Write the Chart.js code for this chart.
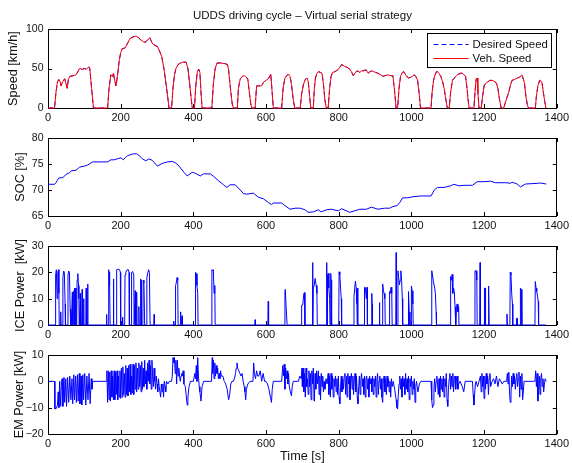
<!DOCTYPE html>
<html>
<head>
<meta charset="utf-8">
<script src="https://cdn.jsdelivr.net/npm/chart.js@4.4.1/dist/chart.umd.min.js"></script>
<style>
  html, body { margin: 0; padding: 0; background: #fff; }
  #wrap { position: relative; width: 572px; height: 463px; overflow: hidden; }
  #wrap canvas { position: absolute; left: 0; }
</style>
</head>
<body>
<div id="wrap">
  <canvas id="speedChart"></canvas>
  <canvas id="socChart"></canvas>
  <canvas id="iceChart"></canvas>
  <canvas id="emChart"></canvas>
</div>
<script>
// time ticks shared by all four panels
const timeTicks = [0, 200, 400, 600, 800, 1000, 1200, 1400];

// vehicle speed over the cycle [t (s), km/h]
const speedData = [
  [0,0],[18,0],[22,20],[26,33],[30,36],[33,34],[36,28],[40,33],[46,37],[50,30],[53,25],[56,36],[60,40],
  [70,41],[77,42],[82,46],[87,50],[95,49],[100,50],[106,49],[112,52],[115,50],[120,25],[125,0],
  [164,0],[168,25],[173,42],[177,40],[180,44],[184,34],[187,28],[191,40],[196,60],[200,70],[204,75],
  [212,76],[219,82],[226,88],[234,90],[242,91],[247,90],[251,88],[256,86],[262,84],[267,83],[274,86],
  [280,89],[284,85],[288,81],[295,79],[301,78],[307,72],[313,65],[319,50],[325,30],[331,8],[333,0],
  [340,0],[344,25],[348,42],[352,50],[358,55],[365,57],[372,58],[380,58],[385,50],[390,30],[394,12],[397,0],
  [403,0],[407,30],[411,46],[415,49],[418,45],[421,20],[424,0],
  [451,0],[455,30],[460,50],[465,57],[475,57],[488,56],[494,55],[497,48],[502,25],[507,5],[510,0],
  [521,0],[524,25],[529,37],[535,40],[540,41],[546,39],[550,36],[554,20],[558,5],[561,0],
  [570,0],[574,28],[580,28],[588,28],[592,32],[597,34],[603,36],[608,38],[613,43],[616,25],[620,0],
  [643,0],[647,25],[652,38],[657,41],[661,43],[666,40],[670,30],[675,10],[679,0],
  [694,0],[698,18],[703,30],[708,36],[712,38],[716,34],[720,15],[723,0],
  [730,0],[733,25],[736,38],[740,44],[744,46],[750,45],[754,44],[758,30],[762,10],[766,0],
  [771,0],[775,25],[779,40],[783,45],[790,46],[796,48],[801,50],[808,55],[812,54],[815,53],[820,52],
  [826,51],[830,49],[835,46],[840,41],[843,43],[850,47],[855,46],[858,45],[863,47],[867,47],[872,48],
  [876,48],[881,44],[886,46],[890,47],[896,46],[902,45],[908,44],[915,42],[922,40],[928,41],[935,42],
  [942,41],[949,41],[953,25],[958,0],
  [962,0],[966,25],[970,40],[975,45],[979,46],[983,43],[987,40],[992,38],[998,39],[1003,40],[1008,42],
  [1012,40],[1017,35],[1021,20],[1025,0],
  [1054,0],[1057,20],[1061,35],[1065,42],[1069,46],[1072,46],[1077,43],[1081,40],[1086,33],[1090,25],
  [1095,10],[1099,0],
  [1104,0],[1108,20],[1113,35],[1118,38],[1124,41],[1130,43],[1136,44],[1140,44],[1145,42],[1149,40],
  [1153,25],[1156,10],[1159,0],
  [1172,0],[1175,20],[1178,36],[1181,38],[1183,20],[1186,0],
  [1192,0],[1196,15],[1200,28],[1204,31],[1210,33],[1216,35],[1222,35],[1227,34],[1231,33],[1235,30],
  [1238,25],[1242,12],[1247,0],
  [1254,0],[1258,6],[1262,12],[1265,16],[1268,20],[1272,28],[1277,35],[1283,36],[1288,37],[1292,38],
  [1297,39],[1301,40],[1304,42],[1307,38],[1311,32],[1315,15],[1319,4],[1322,0],
  [1341,0],[1344,15],[1348,28],[1353,35],[1356,34],[1359,33],[1363,20],[1367,8],[1370,0]
];

// battery state of charge [t (s), %]
const socData = [
  [0,71.1],[18,71.1],[22,71.4],[25,71.8],[30,72.3],[41,72.4],[50,73.0],[59,73.3],[64,73.7],[77,73.8],
  [87,74.4],[100,74.6],[109,74.8],[123,75.4],[164,75.4],[173,75.8],[182,75.8],[191,76.0],[201,76.2],
  [207,75.8],[214,76.3],[219,76.6],[232,76.9],[243,77.0],[251,76.6],[260,76.0],[269,75.6],[278,76.0],
  [287,75.7],[301,74.6],[314,75.1],[328,75.4],[342,75.5],[351,75.2],[358,74.8],[365,74.2],[374,73.4],
  [383,72.7],[397,73.4],[406,73.2],[419,72.7],[428,73.1],[447,73.1],[456,72.6],[469,71.8],[483,71.0],
  [492,70.5],[501,71.0],[515,71.0],[529,70.0],[538,69.3],[547,69.2],[565,69.4],[579,68.6],[593,68.3],
  [606,67.6],[615,67.2],[620,67.5],[643,67.5],[652,67.0],[666,66.3],[680,66.5],[694,66.5],[707,66.2],
  [716,65.7],[730,65.8],[744,66.2],[751,65.8],[767,66.2],[780,66.3],[799,66.0],[808,66.4],[821,66.0],
  [830,65.7],[844,66.0],[858,66.3],[876,66.3],[890,66.7],[908,66.3],[926,66.5],[940,66.5],[949,66.8],
  [961,67.0],[968,67.6],[976,68.5],[990,68.5],[1004,68.7],[1026,68.85],[1054,68.85],[1063,70.0],
  [1072,70.5],[1090,70.5],[1108,70.8],[1117,71.1],[1131,70.8],[1145,70.9],[1168,70.9],[1181,71.6],
  [1200,71.6],[1218,71.7],[1231,71.4],[1259,71.4],[1273,71.3],[1277,71.5],[1291,71.15],[1300,70.6],
  [1314,71.15],[1350,71.3],[1355,71.35],[1371,71.15]
];

// engine power [t (s), kW]
const iceData = [
  [0,0],[20,0],[21,19],[23,21],[25,10],[27,20],[29,21],[30,12],[31,0],[34,0],[35,5],[36,0],
  [40,0],[41,18],[43,20.5],[45,20],[47,8],[48,0],[54,0],[55,19],[57,20.5],[59,20],[61,6],[62,0],[63,6],[64,0],
  [66,0],[67,12.5],[68,0],[70,0],[71,13],[72,0],[73,14],[74,0],[76,14],[77,0],[79,0],[80,17],[82,19.5],
  [84,15],[85,10],[86,0],[88,0],[89,12],[90,0],[93,0],[94,13.5],[95,0],[97,0],[98,10],[99,0],
  [104,0],[105,14],[106,0],[108,0],[109,15.5],[110,0],[160,0],[161,4],[162,0],
  [166,0],[167,21],[168,20],[169,18],[170,15],[171,0],[179,0],[180,17.5],[181,0],
  [188,0],[189,21],[193,21.2],[197,21],[199,20],[200,0],[204,0],[205,3],[206,0],
  [211,0],[212,19],[214,20],[218,21],[221,21],[223,20],[224,0],[229,0],[230,20],[233,20.3],[236,19],[237,0],
  [239,0],[240,13],[241,0],[243,0],[244,12.5],[245,0],[249,0],[250,7],[251,0],[254,0],[255,17.5],[256,17],[257,0],
  [261,0],[262,17],[264,16],[266,0],[271,0],[272,18],[275,20],[277,21],[279,20],[281,0],
  [291,0],[292,4],[293,0],[345,0],[346,1.5],[347,0],[350,0],[351,15],[353,16],[355,18],[357,17],[358,0],
  [364,0],[365,5],[366,0],[368,0],[369,3.5],[370,0],[405,0],[406,20],[408,19.5],[410,15],[412,12],[413,0],
  [450,0],[451,21],[453,20.5],[455,21],[457,12],[459,15],[460,0],[569,0],[570,2],[571,0],[605,0],[606,9],[607,0],
  [651,0],[652,12.5],[653,13.5],[655,7.5],[657,7.5],[658,0],[697,0],[698,7.5],[701,7.6],[704,12],[706,12.3],[707,0],
  [727,0],[728,23.7],[729,0],[730,14.5],[732,14.5],[735,17.7],[738,15],[740,12],[741,0],
  [766,0],[767,23.7],[768,0],[769,18.6],[771,19.6],[773,14],[775,10],[776,0],[778,19.6],[779,17],[780,10],[781,0],
  [800,0],[801,20.2],[803,19],[805,14],[807,10],[808,0],[841,0],[842,10.8],[844,14],[846,16.7],[848,14],
  [850,8],[851,0],[852,14],[853,0],[870,0],[871,14.3],[873,14.3],[876,10],[878,14.3],[879,0],
  [890,0],[891,12],[892,8],[893,0],[911,0],[912,8.5],[913,0],[920,0],[921,15.6],[923,13],[925,12],[927,10],[928,0],
  [939,0],[940,12.7],[942,12],[944,14.3],[946,12],[947,0],[957,0],[958,27.5],[959,0],
  [962,0],[963,20.6],[965,18],[967,15.2],[969,17],[971,20.6],[973,17],[975,10],[976,0],
  [991,0],[992,12.7],[994,5],[996,0],[999,0],[1000,14.8],[1002,13],[1004,8],[1005,0],
  [1055,0],[1056,20.6],[1058,19],[1060,17],[1062,17],[1064,14],[1066,12],[1068,5],[1069,0],
  [1107,0],[1108,18.4],[1110,17],[1112,19.2],[1114,12],[1116,14],[1118,12.7],[1120,7],[1122,0],
  [1124,7],[1126,8],[1128,5],[1130,7],[1131,0],[1174,0],[1175,20.6],[1178,20.6],[1180,17],[1181,0],
  [1188,0],[1189,23.7],[1190,0],[1200,0],[1201,14],[1203,14],[1204,0],[1211,0],[1212,14.8],[1213,14],[1214,0],
  [1262,0],[1263,4.2],[1264,0],[1271,0],[1272,20],[1274,19],[1276,12],[1278,8],[1279,0],
  [1288,0],[1289,2.5],[1291,2.5],[1292,0],[1299,0],[1300,14],[1302,13.5],[1304,0],
  [1340,0],[1341,16.5],[1343,14],[1345,12.7],[1347,11],[1349,9],[1350,0],[1370,0]
];

// electric machine power [t (s), kW]
const emData = [
  [0,0],[18,0],[19,-10.5],[23,-10.3],[26,-9],[28,-4],[30,-10],[32,0],[35,-9.5],[37,0],[39,1],
  [41,-9.5],[44,1.5],[46,-8],[49,1],[51,-9.5],[54,1.5],[57,-8],[60,2],[63,-7],[66,1],[68,-8.5],
  [71,2.5],[73,-7],[76,2],[78,-8],[81,2.5],[83,-7.5],[86,3],[88,-8.5],[91,2],[93,-9],[96,2.5],
  [98,-7],[101,3],[104,-9],[107,2],[110,-7],[113,3],[116,-8.5],[119,1],[121,-3],[123,0],
  [161,0],[162,4],[164,-8],[166,4],[168,-7],[170,3.5],[172,-7.5],[174,4],[176,-6],
  [178,2],[180,-7],[182,4],[184,-7],[186,3.5],[188,-5],[190,4],[192,-7],[194,2],[196,-6],[198,4],
  [200,-6.5],[202,5],[204,-6],[206,5.5],[208,-5],[210,3],[212,-6],[214,6],[216,-5],[218,5],[220,-5.5],
  [222,6],[224,-4],[226,6.5],[228,-5],[230,2],[232,-4.5],[234,6.5],[236,-5],[238,6],[240,-3],[242,7],
  [244,-4],[246,5],[248,-3],[250,7],[252,-2],[254,6],[256,-4],[258,7.5],[260,-3],[262,5],[264,-2],
  [266,8],[268,-1],[270,4],[272,-3],[274,7],[276,0],[278,8],[280,-1],[282,6],[284,-3],[286,8],[288,2],
  [290,-2],[292,5],[294,0],[296,-3],[298,2],[300,-1],[302,-4],[304,1],[306,-2],[310,-6],[312,-1],
  [314,-4],[316,-1],[318,-6],[320,0],[322,-2],[324,-4],[326,0],[330,-1],[334,0],[340,0],[342,2],
  [344,9],[346,7],[348,9],[350,3],[352,8],[354,-1],[356,8],[358,2],[360,5],[362,2],[364,0],[366,2],
  [368,3],[370,2],[372,4],[374,-1],[378,-2],[380,-5],[383,-9],[385,-6],[388,-2],[392,0],[400,0],
  [404,3],[406,1],[408,6],[410,0],[412,9],[414,2],[416,-2],[418,-4],[421,-7.5],[424,-2],[428,0],
  [450,0],[452,9],[453,3],[455,8],[457,1],[459,7],[461,2],[463,6],[465,3],[467,5],[469,1],[471,3],
  [473,1],[475,4],[477,2],[481,2],[485,0],[489,-1],[493,-3],[497,-7],[500,-5],[503,-1],[506,0],
  [510,0],[513,1],[516,3],[518,5],[520,7],[522,5],[525,4],[528,3],[531,2],[534,3],[537,0],[540,-2],
  [542,-4],[544,-7],[546,-3],[550,-1],[556,0],[564,0],[566,7],[568,3],[571,1],[574,4],[577,2],
  [580,2],[584,4],[588,0],[592,3],[596,0],[600,0],[604,-1],[608,-3],[612,-6],[615,-8],[617,-3],
  [620,0],[643,0],[646,6],[648,2],[650,6.5],[652,-3],[654,5],[656,1],[658,4],[660,-1],[662,3],
  [664,-2],[667,-4],[670,-5.5],[672,-2],[675,0],[689,0],[693,2],[697,1],[699,5],[700,-2],[702,5],
  [704,-4],[706,3],[708,-6],[710,5],[712,-2],[714,1],[716,-5],[718,4],[720,-2],[722,3],[724,-7],
  [726,4],[728,-1],[730,5],[732,-6],[733,-7.5],[735,3],[737,-3],[739,4],[741,-1],[744,4],[746,-5],
  [748,2],[750,-7],[752,3],[754,-2],[756,2],[758,-4],[760,0],[762,-3],[765,1],[768,-1],[771,3],
  [773,-5],[775,2],[777,-6],[779,3],[781,-3],[783,2],[785,-6],[787,1],[789,-2],[791,2],[793,-4],
  [795,1],[797,-5],[799,2],[801,-6],[803,-8.5],[805,-2],[807,2],[809,-4],[811,1],[813,-3],[815,2],
  [817,3],[819,-5],[821,2],[823,-6],[825,3],[827,-1],[829,2],[831,-7],[833,1],[835,3],[837,-3],
  [839,2],[841,-5],[843,1],[845,3],[847,-4],[849,2],[851,-6],[853,-8.5],[855,-2],[857,2],[859,-5],
  [861,1],[863,3],[865,-2],[867,1],[869,-5],[871,2],[873,-6],[875,1],[877,2],[879,-3],[881,1],
  [883,-6],[885,2],[887,-1],[889,1],[891,-4],[893,2],[895,-5],[897,1],[899,-2],[901,2],[903,-6],
  [905,1],[907,3],[909,-5],[911,0],[913,2],[915,-3],[917,1],[919,-6],[921,-8],[923,1],[925,2],
  [927,-4],[929,1],[931,-5],[933,2],[935,-2],[937,1],[939,-4],[941,0],[943,-6],[945,1],[947,-2],
  [950,0],[954,-3],[958,-7],[960,-10],[962,-10.5],[964,-5],[966,-1],[968,2],[970,-3],[972,1],
  [974,-6],[976,2],[978,-2],[980,1],[982,-5],[984,3],[986,-3],[988,1],[990,-4],[992,2],[994,-7],
  [996,1],[998,-2],[1000,2],[1002,-5],[1004,0],[1006,-3],[1008,1],[1010,-8],[1012,-2],[1014,0],
  [1018,-4],[1022,-1],[1026,0],[1054,0],[1056,-7],[1058,-10],[1060,-9],[1062,-3],[1064,1],[1066,-4],
  [1068,0],[1070,2],[1072,-1],[1074,-5],[1076,1],[1078,-6],[1080,2],[1082,-3],[1084,1],[1086,-4],
  [1088,2],[1090,-6],[1092,1],[1094,-2],[1096,3],[1098,-7],[1100,-9.5],[1102,-3],[1104,1],[1106,3],
  [1108,-3],[1110,2],[1112,-2],[1114,3],[1116,-4],[1118,1],[1120,2],[1122,-3],[1124,1],[1126,2],
  [1128,-3],[1130,-1],[1134,0],[1140,-2],[1144,-4],[1148,0],[1168,0],[1170,-5],[1172,-9],[1174,-5],
  [1176,-1],[1178,0],[1182,-2],[1186,0],[1190,2],[1192,-4],[1194,3],[1196,-2],[1198,2],[1200,-6.5],
  [1202,2],[1204,-3],[1206,3],[1208,-1],[1210,2],[1212,-5],[1214,1],[1216,3],[1218,-2],[1222,0],
  [1226,1],[1230,-1],[1234,2],[1238,-2],[1242,1],[1246,0],[1250,-1],[1254,0],[1262,0],[1264,3],
  [1266,-1],[1268,3.5],[1270,-4],[1272,-8],[1274,-5],[1276,2],[1278,-2],[1280,3],[1282,-1],[1284,2],
  [1286,-3],[1288,1],[1290,3],[1292,-2],[1294,1],[1296,3.5],[1298,-6],[1300,2],[1302,-3],[1304,3],
  [1306,-7],[1308,-4],[1310,0],[1336,0],[1340,0],[1342,4],[1344,-2],[1346,3],[1348,-7.5],[1350,-3],
  [1352,2],[1354,-5],[1356,1],[1358,3],[1360,-2],[1362,1],[1364,-4],[1366,-1],[1368,1],[1371,0]
];

const FONT = '"Liberation Sans", Arial, Helvetica, sans-serif';
const INK = '#111';

const toXY = arr => arr.map(p => ({x: p[0], y: p[1]}));
const plainNumber = v => String(v).replace('-', '\u2212');

// box around the axes plus inward tick marks on all four sides
const framePlugin = {
  id: 'frame',
  beforeDatasetsDraw(chart) {
    const {ctx, chartArea: a, scales: {x, y}} = chart;
    ctx.save();
    ctx.strokeStyle = '#000';
    ctx.lineWidth = 1;
    ctx.beginPath();
    x.ticks.forEach(t => {
      const px = Math.round(x.getPixelForValue(t.value)) + 0.5;
      ctx.moveTo(px, a.bottom); ctx.lineTo(px, a.bottom - 4);
      ctx.moveTo(px, a.top); ctx.lineTo(px, a.top + 4);
    });
    y.ticks.forEach(t => {
      const py = Math.round(y.getPixelForValue(t.value)) + 0.5;
      ctx.moveTo(a.left, py); ctx.lineTo(a.left + 4, py);
      ctx.moveTo(a.right, py); ctx.lineTo(a.right - 4, py);
    });
    ctx.stroke();
    ctx.strokeRect(Math.round(a.left) + 0.5, Math.round(a.top) + 0.5,
                   Math.round(a.width) - 1, Math.round(a.height));
    ctx.restore();
  }
};

// title and boxed legend of the speed panel
const speedDecor = {
  id: 'speedDecor',
  afterDraw(chart) {
    const {ctx, chartArea: a} = chart;
    ctx.save();
    ctx.fillStyle = INK;
    ctx.font = '11.5px ' + FONT;
    ctx.textAlign = 'center';
    ctx.textBaseline = 'middle';
    ctx.fillText('UDDS driving cycle \u2013 Virtual serial strategy', (a.left + a.right) / 2, 16);

    const bx = Math.round(a.right) - 129.5, by = Math.round(a.top) + 4.5, bw = 124, bh = 34;
    ctx.fillStyle = '#fff';
    ctx.fillRect(bx, by, bw, bh);
    ctx.strokeStyle = '#000';
    ctx.lineWidth = 1;
    ctx.strokeRect(bx, by, bw, bh);

    const rows = [
      {text: 'Desired Speed', color: '#0000ff', dash: [5, 3]},
      {text: 'Veh. Speed', color: '#ff0000', dash: []}
    ];
    rows.forEach((r, i) => {
      const ly = Math.round(by + 10 + i * 14) + 0.5;
      ctx.strokeStyle = r.color;
      ctx.setLineDash(r.dash);
      ctx.beginPath();
      ctx.moveTo(bx + 6, ly);
      ctx.lineTo(bx + 41, ly);
      ctx.stroke();
      ctx.setLineDash([]);
      ctx.fillStyle = INK;
      ctx.font = '11.4px ' + FONT;
      ctx.textAlign = 'left';
      ctx.fillText(r.text, bx + 45, ly + 0.5);
    });
    ctx.restore();
  }
};

function makePanel(id, o) {
  const cv = document.getElementById(id);
  cv.width = 572;
  cv.height = o.height;
  cv.style.top = o.top + 'px';
  cv.style.width = '572px';
  cv.style.height = o.height + 'px';
  const xh = o.height - o.padTop - o.areaH;

  return new Chart(cv.getContext('2d'), {
    type: 'line',
    data: {datasets: o.datasets},
    plugins: [framePlugin].concat(o.plugins || []),
    options: {
      responsive: false,
      animation: false,
      events: [],
      layout: {padding: {top: o.padTop, right: 12, left: 0, bottom: 0}},
      plugins: {legend: {display: false}, tooltip: {enabled: false}},
      elements: {point: {radius: 0}, line: {borderWidth: 1, tension: 0}},
      scales: {
        x: {
          type: 'linear', min: 0, max: 1400,
          afterBuildTicks: s => { s.ticks = timeTicks.map(v => ({value: v})); },
          ticks: {padding: 3, color: INK, font: {family: FONT, size: 11}, maxRotation: 0, autoSkip: false,
                  callback: plainNumber},
          grid: {display: false, drawTicks: false},
          border: {display: false},
          title: o.xTitle ? {display: true, text: o.xTitle, color: INK,
                             font: {family: FONT, size: 12.7, lineHeight: 1}, padding: {top: 0, bottom: 0}}
                          : {display: false},
          afterFit: s => { s.height = xh; }
        },
        y: {
          min: o.yMin, max: o.yMax,
          afterBuildTicks: s => { s.ticks = o.yTicks.map(v => ({value: v})); },
          ticks: {padding: 4.5, color: INK, font: {family: FONT, size: 10.5}, callback: plainNumber},
          grid: {display: false, drawTicks: false},
          border: {display: false},
          title: {display: true, text: o.yTitle, color: INK,
                  font: {family: FONT, size: 12.7, lineHeight: 1.2}, padding: {top: o.titlePad, bottom: 0}},
          afterFit: s => { s.width = 48; }
        }
      }
    }
  });
}

makePanel('speedChart', {
  top: 0, height: 128, padTop: 29, areaH: 79, titlePad: 6,
  yMin: 0, yMax: 100, yTicks: [0, 50, 100], yTitle: 'Speed [km/h]',
  datasets: [
    {label: 'Veh. Speed', data: toXY(speedData), borderColor: '#ff0000', clip: 2, order: 0},
    {label: 'Desired Speed', data: toXY(speedData), borderColor: '#0000ff', borderDash: [5, 3], clip: 2, order: 1}
  ],
  plugins: [speedDecor]
});

makePanel('socChart', {
  top: 118, height: 118, padTop: 20, areaH: 78, titlePad: 12.8,
  yMin: 65, yMax: 80, yTicks: [65, 70, 75, 80], yTitle: 'SOC [%]',
  datasets: [{label: 'SOC', data: toXY(socData), borderColor: '#0000ff', clip: 2}]
});

makePanel('iceChart', {
  top: 226, height: 119, padTop: 20, areaH: 79, titlePad: 12.8,
  yMin: 0, yMax: 30, yTicks: [0, 10, 20, 30], yTitle: 'ICE Power  [kW]',
  datasets: [{label: 'ICE Power', data: toXY(iceData), borderColor: '#0000ff', clip: 2}]
});

makePanel('emChart', {
  top: 335, height: 128, padTop: 20, areaH: 79, titlePad: 11.8,
  yMin: -20, yMax: 10, yTicks: [-20, -10, 0, 10], yTitle: 'EM Power [kW]', xTitle: 'Time [s]',
  datasets: [{label: 'EM Power', data: toXY(emData), borderColor: '#0000ff', clip: 2}]
});
</script>
</body>
</html>
